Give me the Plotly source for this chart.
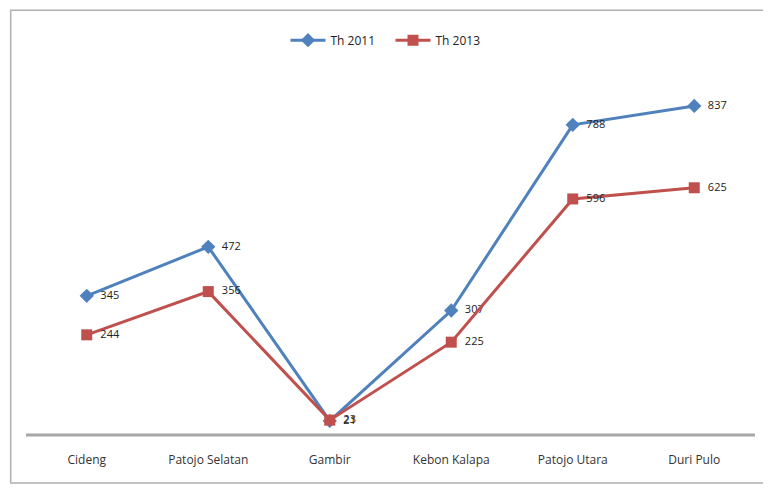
import plotly.graph_objects as go

categories = ["Cideng", "Patojo Selatan", "Gambir", "Kebon Kalapa", "Patojo Utara", "Duri Pulo"]
th2011 = [345, 472, 21, 307, 788, 837]
th2013 = [244, 356, 23, 225, 596, 625]

FONT = "Open Sans"
fig = go.Figure()
fig.add_trace(go.Scatter(
    x=categories, y=th2011, name="Th 2011", mode="lines+markers+text",
    line=dict(color="#4F81BD", width=3),
    marker=dict(symbol="diamond", size=11, color="#4F81BD"),
    text=["  " + str(v) for v in th2011], textposition="middle right",
    textfont=dict(family=FONT, size=11, color="#222222"),
))
fig.add_trace(go.Scatter(
    x=categories, y=th2013, name="Th 2013", mode="lines+markers+text",
    line=dict(color="#C0504D", width=3),
    marker=dict(symbol="square", size=11, color="#C0504D"),
    text=["  " + str(v) for v in th2013], textposition="middle right",
    textfont=dict(family=FONT, size=11, color="#222222"),
))

fig.update_layout(
    width=771, height=488,
    margin=dict(l=18, r=24, t=52, b=61),
    paper_bgcolor="white", plot_bgcolor="white",
    font=dict(family=FONT, size=11, color="#333333"),
    showlegend=True,
    legend=dict(orientation="h", x=0.50, xanchor="center", y=1.053, yanchor="middle",
                font=dict(family=FONT, size=12, color="#222222"), bgcolor="rgba(0,0,0,0)",
                itemwidth=35, entrywidth=55),
    xaxis=dict(type="category", range=[-0.5, 5.5], showgrid=False, zeroline=False,
               showline=False, ticks="", ticklabelstandoff=16,
               tickfont=dict(family=FONT, size=12, color="#333333")),
    yaxis=dict(range=[-15.5, 956], showgrid=False, zeroline=False, showline=False,
               showticklabels=False, ticks=""),
    shapes=[
        dict(type="line", xref="paper", yref="paper", x0=0, x1=1, y0=0, y1=0,
             line=dict(color="#A6A6A6", width=3), layer="below"),
        dict(type="rect", xref="paper", yref="paper", x0=-0.021, x1=1.012,
             y0=-0.128, y1=1.133, line=dict(color="#B0B0B0", width=1.5)),
    ],
)

fig.write_html("out.html")
